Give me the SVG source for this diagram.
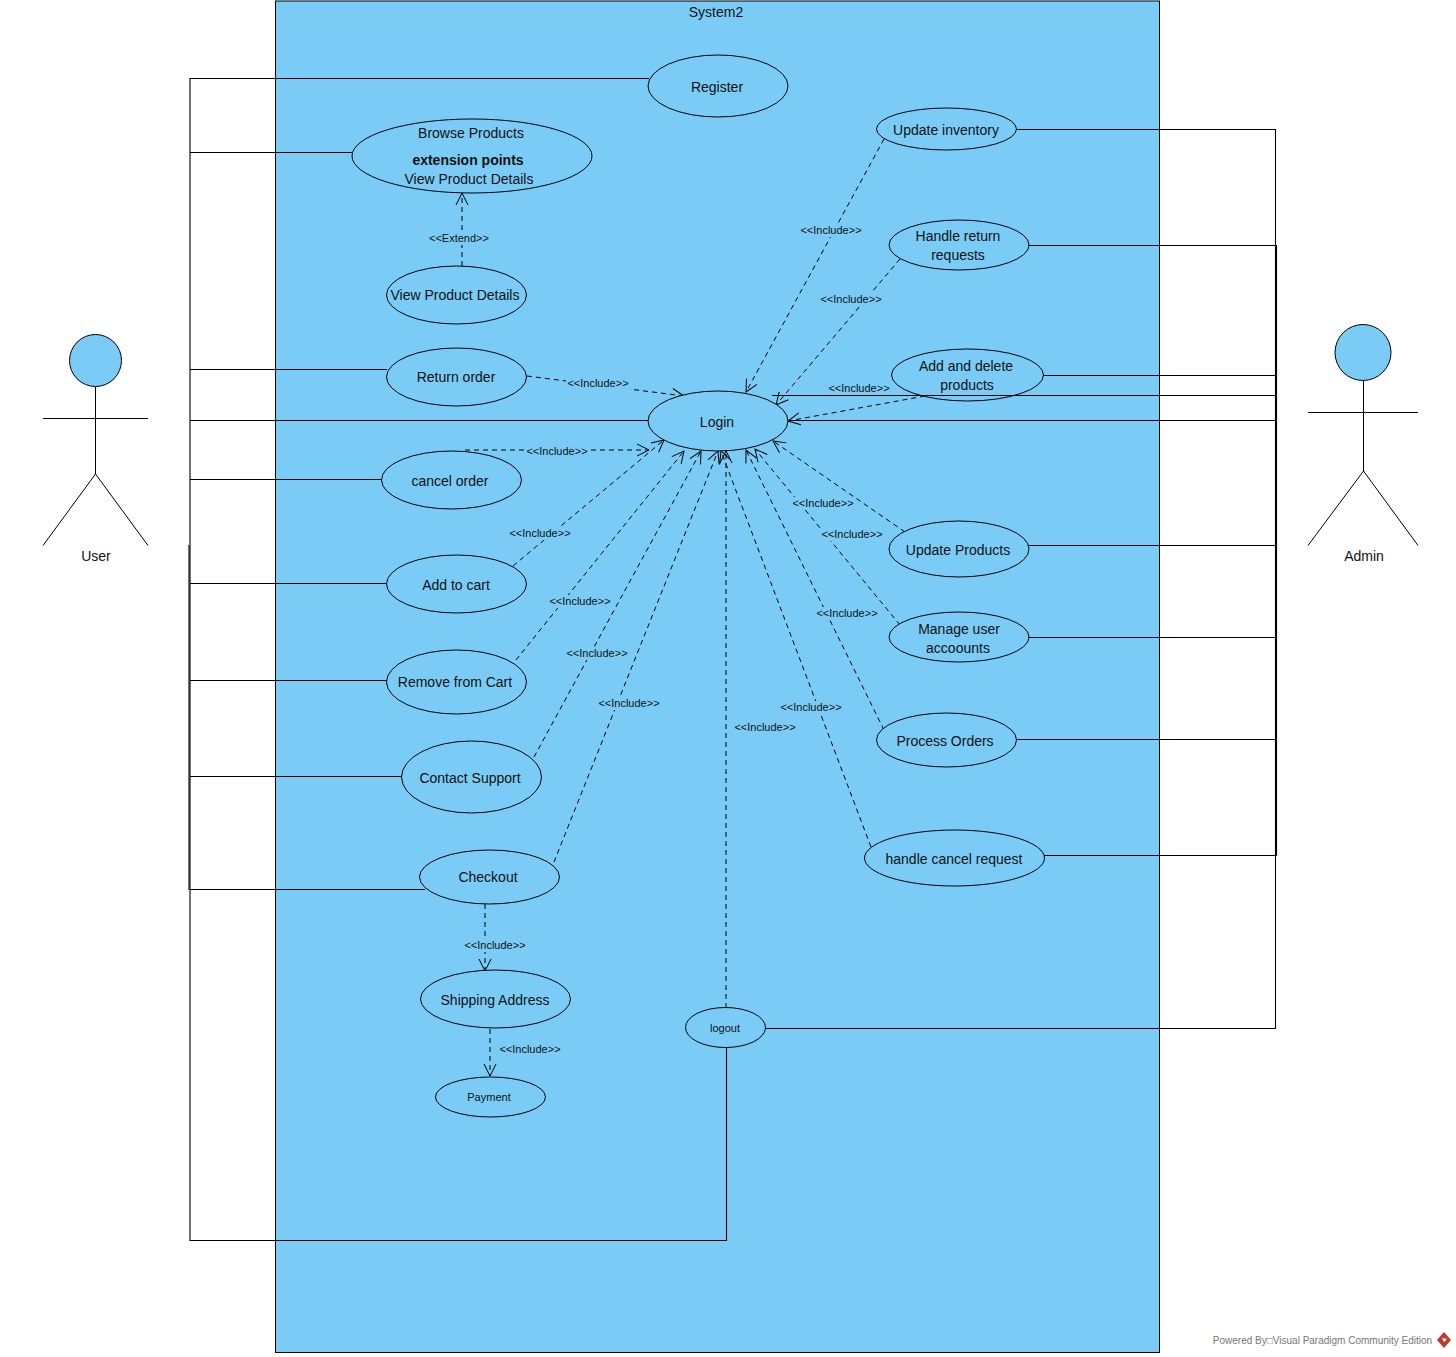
<svg xmlns="http://www.w3.org/2000/svg" width="1456" height="1357" viewBox="0 0 1456 1357">
<style>
text{font-family:"Liberation Sans",Arial,sans-serif;font-size:14px;fill:#111;text-anchor:middle}
.u ellipse,.a circle{fill:#7accf6;stroke:#000;stroke-width:1}
.a line{stroke:#000;stroke-width:1}
.s{fill:none;stroke:#000;stroke-width:1.1}
.d{fill:none;stroke:#000;stroke-width:1;stroke-dasharray:5 4;marker-end:url(#v)}
.l{font-size:11px}
.sm{font-size:11px}
.b{fill:#7accf6;width:64px;height:13px}
</style>
<defs>
<marker id="v" markerUnits="userSpaceOnUse" markerWidth="20" markerHeight="20" refX="13" refY="8" orient="auto" viewBox="0 0 20 20">
<path d="M1 2L13 8L1 14" fill="none" stroke="#000" stroke-width="1"/>
</marker>
</defs>
<rect width="1456" height="1357" fill="#fff"/>
<g id="system">
<rect x="275.500" y="1" width="884" height="1351.500" fill="#7accf6" stroke="#000" stroke-width="1"/>
<text x="716" y="17">System2</text>
</g>
<g id="connectors">
<path class="s" d="M649 78.500H190V1240.500H726.500V1047M352 152.500H190M387 369.500H190M649 420.500H190M382 479.500H190M387 583.500H190M387 680.500H190M402 776.500H190M425 889.500H190"/>
<path class="s" d="M189 545V890" stroke-width="1.500"/>
<path class="s" d="M1016 129.500H1275.500V1028.500H765M1029 245.500H1276.500V855.500H1044M1043 375.500H1275M788 420.500H1275M1029 545.500H1275M1029 637.500H1275M1016 739.500H1275"/>
<path class="d" d="M462 266V193"/>
<path class="d" d="M527 376L684 396"/>
<path class="d" d="M465 450H649"/>
<path class="d" d="M513 566L664 440"/>
<path class="d" d="M516 660L684 451"/>
<path class="d" d="M534 757L701 451"/>
<path class="d" d="M554 862L718 451"/>
<path class="d" d="M726 1008V451"/>
<path class="d" d="M871 847L721 451"/>
<path class="d" d="M884 730L746 450"/>
<path class="d" d="M900 625L755 449"/>
<path class="d" d="M905 532L773 441"/>
<path class="d" d="M925 396L788 421"/>
<path class="d" d="M900 259L776 405"/>
<path class="d" d="M884 139L746 392"/>
<path class="d" d="M485 904V971"/>
<path class="d" d="M490 1029V1076"/>
</g>
<g id="connector-labels">
<rect class="b" x="427" y="232"/><text class="l" x="459" y="242">&lt;&lt;Extend&gt;&gt;</text>
<rect class="b" x="566" y="377"/><text class="l" x="598" y="387">&lt;&lt;Include&gt;&gt;</text>
<rect class="b" x="525" y="445"/><text class="l" x="557" y="455">&lt;&lt;Include&gt;&gt;</text>
<rect class="b" x="508" y="527"/><text class="l" x="540" y="537">&lt;&lt;Include&gt;&gt;</text>
<rect class="b" x="548" y="595"/><text class="l" x="580" y="605">&lt;&lt;Include&gt;&gt;</text>
<rect class="b" x="565" y="647"/><text class="l" x="597" y="657">&lt;&lt;Include&gt;&gt;</text>
<rect class="b" x="597" y="697"/><text class="l" x="629" y="707">&lt;&lt;Include&gt;&gt;</text>
<rect class="b" x="733" y="721"/><text class="l" x="765" y="731">&lt;&lt;Include&gt;&gt;</text>
<rect class="b" x="779" y="701"/><text class="l" x="811" y="711">&lt;&lt;Include&gt;&gt;</text>
<rect class="b" x="815" y="607"/><text class="l" x="847" y="617">&lt;&lt;Include&gt;&gt;</text>
<rect class="b" x="820" y="528"/><text class="l" x="852" y="538">&lt;&lt;Include&gt;&gt;</text>
<rect class="b" x="791" y="497"/><text class="l" x="823" y="507">&lt;&lt;Include&gt;&gt;</text>
<text class="l" x="859" y="392">&lt;&lt;Include&gt;&gt;</text>
<rect class="b" x="819" y="293"/><text class="l" x="851" y="303">&lt;&lt;Include&gt;&gt;</text>
<rect class="b" x="799" y="224"/><text class="l" x="831" y="234">&lt;&lt;Include&gt;&gt;</text>
<rect class="b" x="463" y="939"/><text class="l" x="495" y="949">&lt;&lt;Include&gt;&gt;</text>
<text class="l" x="530" y="1053">&lt;&lt;Include&gt;&gt;</text>
</g>
<g id="register" class="u"><ellipse cx="718" cy="86" rx="70" ry="31"/><text x="717" y="92">Register</text></g>
<g id="browse" class="u"><ellipse cx="472" cy="156" rx="120" ry="37"/><text x="471" y="138">Browse Products</text><text x="468" y="165" font-weight="700">extension points</text><text x="469" y="184">View Product Details</text></g>
<g id="view-details" class="u"><ellipse cx="456.500" cy="295" rx="70" ry="29"/><text x="455" y="300">View Product Details</text></g>
<g id="return-order" class="u"><ellipse cx="456.500" cy="377" rx="70" ry="29"/><text x="456" y="382">Return order</text></g>
<g id="login" class="u"><ellipse cx="718" cy="421" rx="70" ry="30"/><text x="717" y="427">Login</text></g>
<g id="cancel-order" class="u"><ellipse cx="451.500" cy="480" rx="70" ry="29"/><text x="450" y="486">cancel order</text></g>
<g id="add-cart" class="u"><ellipse cx="456.500" cy="584" rx="70" ry="29"/><text x="456" y="590">Add to cart</text></g>
<g id="remove-cart" class="u"><ellipse cx="456.500" cy="682" rx="70" ry="32"/><text x="455" y="687">Remove from Cart</text></g>
<g id="contact" class="u"><ellipse cx="471.500" cy="777" rx="70" ry="36"/><text x="470" y="783">Contact Support</text></g>
<g id="checkout" class="u"><ellipse cx="489.500" cy="877" rx="70" ry="27"/><text x="488" y="882">Checkout</text></g>
<g id="shipping" class="u"><ellipse cx="495.500" cy="999" rx="75" ry="29"/><text x="495" y="1005">Shipping Address</text></g>
<g id="payment" class="u"><ellipse cx="490.500" cy="1097" rx="55" ry="20"/><text class="sm" x="489" y="1101">Payment</text></g>
<g id="logout" class="u"><ellipse cx="725.500" cy="1027.500" rx="40" ry="20"/><text class="sm" x="725" y="1032">logout</text></g>
<g id="update-inventory" class="u"><ellipse cx="946.500" cy="129" rx="70" ry="21"/><text x="946" y="135">Update inventory</text></g>
<g id="handle-return" class="u"><ellipse cx="959" cy="245" rx="70" ry="25"/><text x="958" y="241">Handle return</text><text x="958" y="260">requests</text></g>
<g id="add-delete" class="u"><ellipse cx="967.500" cy="375" rx="76" ry="26"/><text x="966" y="371">Add and delete</text><text x="967" y="390">products</text></g>
<g id="update-products" class="u"><ellipse cx="959" cy="549" rx="70" ry="28"/><text x="958" y="555">Update Products</text></g>
<g id="manage-users" class="u"><ellipse cx="959" cy="637" rx="70" ry="25"/><text x="959" y="634">Manage user</text><text x="958" y="653">accoounts</text></g>
<g id="process-orders" class="u"><ellipse cx="946.500" cy="740" rx="70" ry="27"/><text x="945" y="746">Process Orders</text></g>
<g id="handle-cancel" class="u"><ellipse cx="954.500" cy="858" rx="90" ry="28"/><text x="954" y="864">handle cancel request</text></g>
<g id="connector-over"><path class="s" d="M772 395.500H1275"/></g>
<g id="user" class="a"><circle cx="95.500" cy="360.500" r="26"/><line x1="95.500" y1="387" x2="95.500" y2="474"/><line x1="43" y1="418.500" x2="148" y2="418.500"/><line x1="95.500" y1="474" x2="43" y2="545.500"/><line x1="95.500" y1="474" x2="148" y2="545.500"/><text x="96" y="561">User</text></g>
<g id="admin" class="a"><circle cx="1363" cy="352.500" r="28"/><line x1="1363.500" y1="380" x2="1363.500" y2="471"/><line x1="1308" y1="412.500" x2="1418" y2="412.500"/><line x1="1363.500" y1="471" x2="1308" y2="545.500"/><line x1="1363.500" y1="471" x2="1418" y2="545.500"/><text x="1364" y="561">Admin</text></g>
<g id="watermark"><text x="1322.500" y="1344" style="font-size:10px;fill:#777">Powered By□Visual Paradigm Community Edition</text><path d="M1444 1332l7 8-7 8-7-8z" fill="#c0392b"/><path d="M1442 1338l5 1-3 3z" fill="#fff"/></g>
</svg>
